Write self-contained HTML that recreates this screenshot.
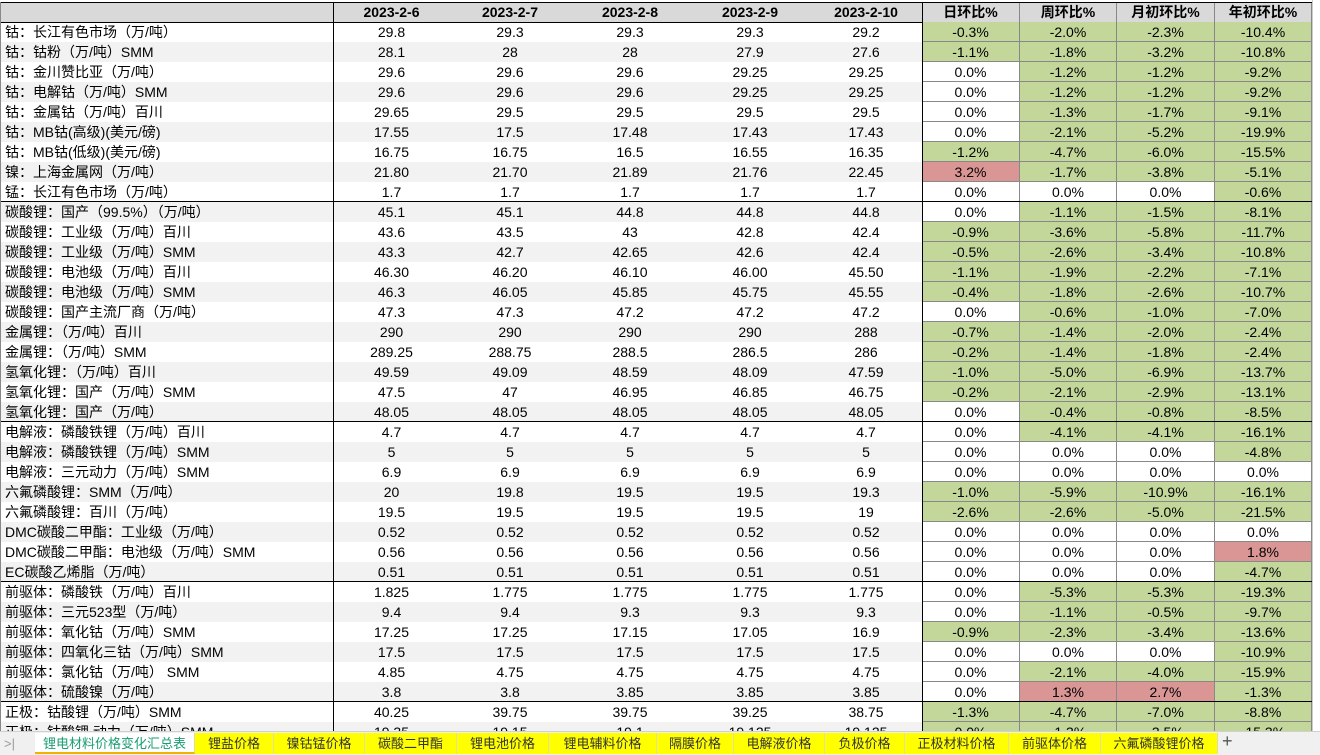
<!DOCTYPE html>
<html><head><meta charset="utf-8"><style>
body{margin:0;width:1320px;height:754px;overflow:hidden;background:#fff;font-family:"Liberation Sans","Noto Sans CJK SC",sans-serif;font-size:14px;color:#000;position:relative}
.row{position:absolute;left:0;width:1312px;height:20px}
.row.s{background:linear-gradient(to right,#f2f2f2 0,#f2f2f2 922px,transparent 922px)}
.c{position:absolute;top:0;height:20px;line-height:20px;text-align:center;white-space:nowrap;overflow:hidden}
.l{left:0;width:328px;padding-left:5px;text-align:left}
.p{box-sizing:border-box;border-right:1px solid #888;border-bottom:1px solid #888;background:#fff}
.g{background:#c4d79b}.r{background:#da9694}
.h{background:#d9d9d9;font-weight:bold;border-top:1px solid #000;border-bottom:1px solid #000;box-sizing:border-box;height:21px}
.sep{position:absolute;left:0;width:1312px;height:0;border-top:1.5px solid #000}
#tabs{position:absolute;left:0;top:731px;width:1320px;height:23px;background:#f0f0f0;border-top:1px solid #d0d0d0;z-index:5}
.tab{position:absolute;top:1px;height:21px;line-height:21px;text-align:center;background:#ffff00;font-size:13px;color:#333;border-right:1px solid #e0e0a0}
</style></head><body>
<div id="b"></div>
<div style="position:absolute;left:333px;top:2px;width:0;height:729px;border-left:1px solid #000"></div>
<div style="position:absolute;left:0;top:2px;width:0;height:729px;border-left:1px solid #888"></div>
<div style="position:absolute;left:922px;top:2px;width:0;height:729px;border-left:1px solid #000"></div>
<div style="position:absolute;left:1312px;top:0;width:8px;height:731px;background:#fff;border-left:1px solid #ccc"></div>
<div id="tabs">
<div style="position:absolute;left:4px;top:4px;color:#999;font-size:13px">&gt;|</div>
<div class="tab" style="left:35px;width:159px;background:#fff;color:#1a9e6e;border-bottom:2px solid #f0b400;height:19px">锂电材料价格变化汇总表</div>
<div class="tab" style="left:195px;width:78px">锂盐价格</div>
<div class="tab" style="left:274px;width:90px">镍钴锰价格</div>
<div class="tab" style="left:365px;width:91px">碳酸二甲酯</div>
<div class="tab" style="left:457px;width:91px">锂电池价格</div>
<div class="tab" style="left:549px;width:107px">锂电辅料价格</div>
<div class="tab" style="left:657px;width:76px">隔膜价格</div>
<div class="tab" style="left:734px;width:90px">电解液价格</div>
<div class="tab" style="left:825px;width:79px">负极价格</div>
<div class="tab" style="left:905px;width:103px">正极材料价格</div>
<div class="tab" style="left:1009px;width:91px">前驱体价格</div>
<div class="tab" style="left:1101px;width:116px">六氟磷酸锂价格</div>
<div style="position:absolute;left:1222px;top:-1px;font-size:18px;color:#555">+</div>
</div>
<script>
var D=[
["钴：长江有色市场（万/吨）","29.8","29.3","29.3","29.3","29.2","-0.3%g","-2.0%g","-2.3%g","-10.4%g"],
["钴：钴粉（万/吨）SMM","28.1","28","28","27.9","27.6","-1.1%g","-1.8%g","-3.2%g","-10.8%g"],
["钴：金川赞比亚（万/吨）","29.6","29.6","29.6","29.25","29.25","0.0%w","-1.2%g","-1.2%g","-9.2%g"],
["钴：电解钴（万/吨）SMM","29.6","29.6","29.6","29.25","29.25","0.0%w","-1.2%g","-1.2%g","-9.2%g"],
["钴：金属钴（万/吨）百川","29.65","29.5","29.5","29.5","29.5","0.0%w","-1.3%g","-1.7%g","-9.1%g"],
["钴：MB钴(高级)(美元/磅)","17.55","17.5","17.48","17.43","17.43","0.0%w","-2.1%g","-5.2%g","-19.9%g"],
["钴：MB钴(低级)(美元/磅)","16.75","16.75","16.5","16.55","16.35","-1.2%g","-4.7%g","-6.0%g","-15.5%g"],
["镍：上海金属网（万/吨）","21.80","21.70","21.89","21.76","22.45","3.2%r","-1.7%g","-3.8%g","-5.1%g"],
["锰：长江有色市场（万/吨）","1.7","1.7","1.7","1.7","1.7","0.0%w","0.0%w","0.0%w","-0.6%g","sep"],
["碳酸锂：国产（99.5%）（万/吨）","45.1","45.1","44.8","44.8","44.8","0.0%w","-1.1%g","-1.5%g","-8.1%g"],
["碳酸锂：工业级（万/吨）百川","43.6","43.5","43","42.8","42.4","-0.9%g","-3.6%g","-5.8%g","-11.7%g"],
["碳酸锂：工业级（万/吨）SMM","43.3","42.7","42.65","42.6","42.4","-0.5%g","-2.6%g","-3.4%g","-10.8%g"],
["碳酸锂：电池级（万/吨）百川","46.30","46.20","46.10","46.00","45.50","-1.1%g","-1.9%g","-2.2%g","-7.1%g"],
["碳酸锂：电池级（万/吨）SMM","46.3","46.05","45.85","45.75","45.55","-0.4%g","-1.8%g","-2.6%g","-10.7%g"],
["碳酸锂：国产主流厂商（万/吨）","47.3","47.3","47.2","47.2","47.2","0.0%w","-0.6%g","-1.0%g","-7.0%g"],
["金属锂：（万/吨）百川","290","290","290","290","288","-0.7%g","-1.4%g","-2.0%g","-2.4%g"],
["金属锂：（万/吨）SMM","289.25","288.75","288.5","286.5","286","-0.2%g","-1.4%g","-1.8%g","-2.4%g"],
["氢氧化锂：（万/吨）百川","49.59","49.09","48.59","48.09","47.59","-1.0%g","-5.0%g","-6.9%g","-13.7%g"],
["氢氧化锂：国产（万/吨）SMM","47.5","47","46.95","46.85","46.75","-0.2%g","-2.1%g","-2.9%g","-13.1%g"],
["氢氧化锂：国产（万/吨）","48.05","48.05","48.05","48.05","48.05","0.0%w","-0.4%g","-0.8%g","-8.5%g","sep"],
["电解液：磷酸铁锂（万/吨）百川","4.7","4.7","4.7","4.7","4.7","0.0%w","-4.1%g","-4.1%g","-16.1%g"],
["电解液：磷酸铁锂（万/吨）SMM","5","5","5","5","5","0.0%w","0.0%w","0.0%w","-4.8%g"],
["电解液：三元动力（万/吨）SMM","6.9","6.9","6.9","6.9","6.9","0.0%w","0.0%w","0.0%w","0.0%w"],
["六氟磷酸锂：SMM（万/吨）","20","19.8","19.5","19.5","19.3","-1.0%g","-5.9%g","-10.9%g","-16.1%g"],
["六氟磷酸锂：百川（万/吨）","19.5","19.5","19.5","19.5","19","-2.6%g","-2.6%g","-5.0%g","-21.5%g"],
["DMC碳酸二甲酯：工业级（万/吨）","0.52","0.52","0.52","0.52","0.52","0.0%w","0.0%w","0.0%w","0.0%w"],
["DMC碳酸二甲酯：电池级（万/吨）SMM","0.56","0.56","0.56","0.56","0.56","0.0%w","0.0%w","0.0%w","1.8%r"],
["EC碳酸乙烯脂（万/吨）","0.51","0.51","0.51","0.51","0.51","0.0%w","0.0%w","0.0%w","-4.7%g","sep"],
["前驱体：磷酸铁（万/吨）百川","1.825","1.775","1.775","1.775","1.775","0.0%w","-5.3%g","-5.3%g","-19.3%g"],
["前驱体：三元523型（万/吨）","9.4","9.4","9.3","9.3","9.3","0.0%w","-1.1%g","-0.5%g","-9.7%g"],
["前驱体：氧化钴（万/吨）SMM","17.25","17.25","17.15","17.05","16.9","-0.9%g","-2.3%g","-3.4%g","-13.6%g"],
["前驱体：四氧化三钴（万/吨）SMM","17.5","17.5","17.5","17.5","17.5","0.0%w","0.0%w","0.0%w","-10.9%g"],
["前驱体：氯化钴（万/吨） SMM","4.85","4.75","4.75","4.75","4.75","0.0%w","-2.1%g","-4.0%g","-15.9%g"],
["前驱体：硫酸镍（万/吨）","3.8","3.8","3.85","3.85","3.85","0.0%w","1.3%r","2.7%r","-1.3%g","sep"],
["正极：钴酸锂（万/吨）SMM","40.25","39.75","39.75","39.25","38.75","-1.3%g","-4.7%g","-7.0%g","-8.8%g"],
["正极：钴酸锂 动力（万/吨）SMM","19.35","19.15","19.1","19.125","19.125","0.0%g","-1.3%g","-3.5%g","-15.3%g"]
];
var X=[333,450,570,690,810,922,1020,1117,1215,1312];
var H=["","2023-2-6","2023-2-7","2023-2-8","2023-2-9","2023-2-10","日环比%","周环比%","月初环比%","年初环比%"];
var h='<div class="row h" style="top:2px">';
for(var k=1;k<10;k++)h+='<div class="c" style="left:'+X[k-1]+'px;width:'+(X[k]-X[k-1])+'px;height:19px;line-height:19px;'+(k>5?'border-right:1px solid #888;box-sizing:border-box;':'')+'">'+H[k]+'</div>';
h+='</div>';
D.forEach(function(r,i){
 var top=22+20*i;
 h+='<div class="row'+(i%2?' s':'')+'" style="top:'+top+'px"><div class="c l">'+r[0]+'</div>';
 for(var k=1;k<6;k++)h+='<div class="c" style="left:'+X[k-1]+'px;width:'+(X[k]-X[k-1])+'px">'+r[k]+'</div>';
 for(k=6;k<10;k++){var v=r[k],cl=v.slice(-1);h+='<div class="c p '+(cl=='w'?'':cl)+'" style="left:'+X[k-1]+'px;width:'+(X[k]-X[k-1])+'px">'+v.slice(0,-1)+'</div>';}
 h+='</div>';
 if(r[10])h+='<div class="sep" style="top:'+(top+19)+'px"></div>';
});
document.getElementById('b').innerHTML=h;
</script>
</body></html>
